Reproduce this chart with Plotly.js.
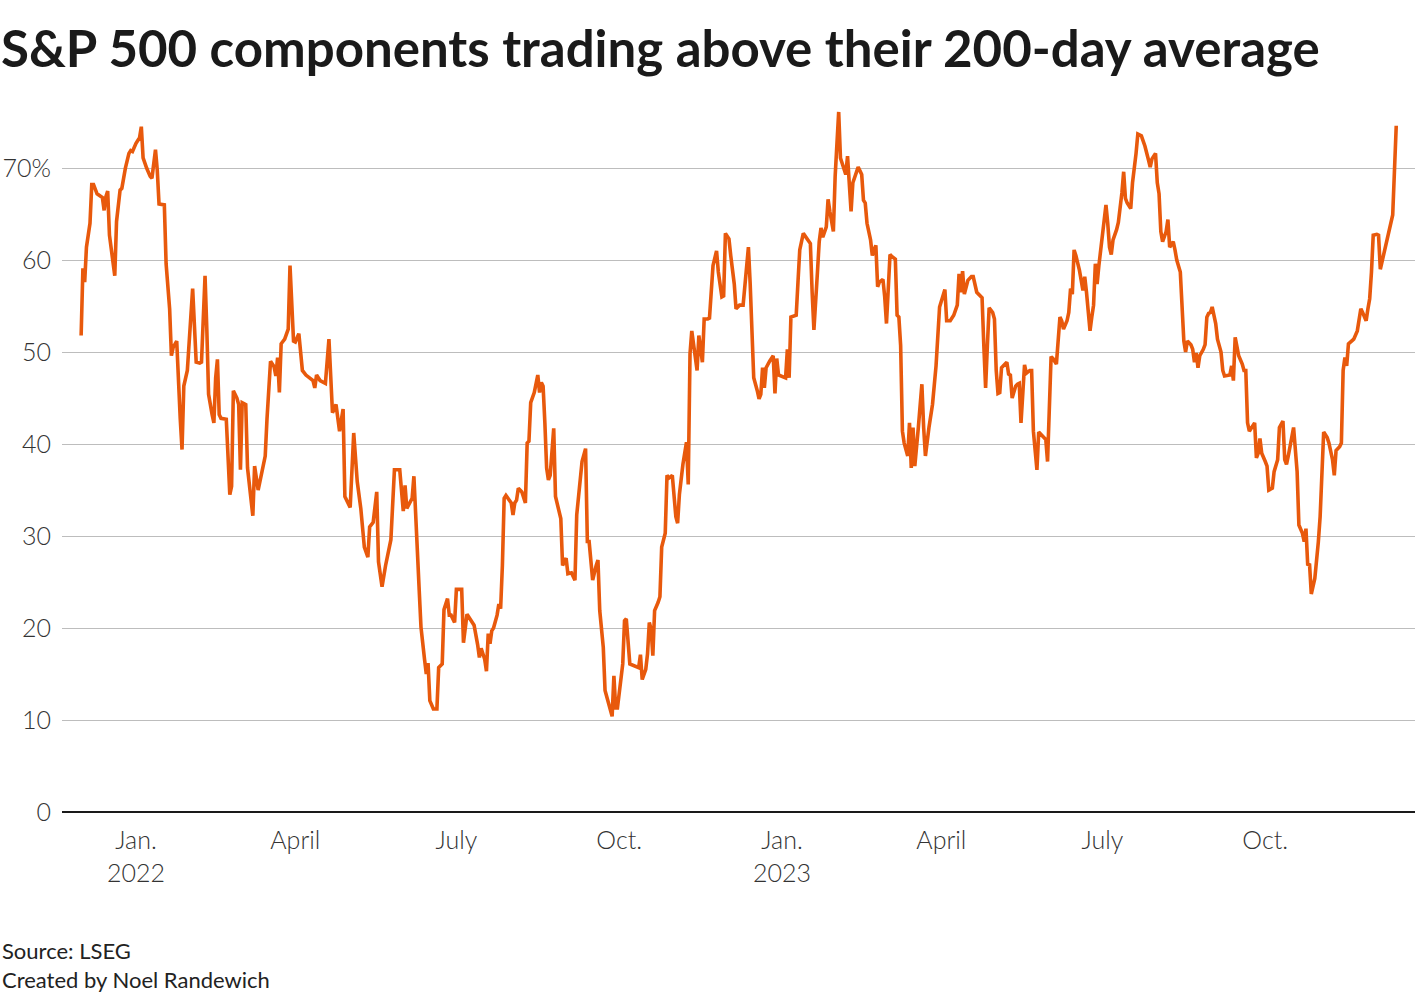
<!DOCTYPE html>
<html>
<head>
<meta charset="utf-8">
<script src="https://cdn.plot.ly/plotly-3.0.1.min.js"></script>
<style>
  html, body { margin: 0; padding: 0; background: #ffffff; }
  #chart { width: 1420px; height: 1000px; }
</style>
</head>
<body>
<div id="chart"></div>
<script>
// Share of S&P 500 components trading above their 200-day moving average (%)
const dates = [
"2021-12-01","2021-12-02","2021-12-03","2021-12-04","2021-12-06","2021-12-07","2021-12-08","2021-12-10","2021-12-13","2021-12-14",
"2021-12-15","2021-12-16","2021-12-17","2021-12-19","2021-12-20","2021-12-21","2021-12-23","2021-12-24","2021-12-26","2021-12-28",
"2021-12-29","2021-12-30","2022-01-01","2022-01-03","2022-01-04","2022-01-05","2022-01-06","2022-01-07","2022-01-09","2022-01-10",
"2022-01-12","2022-01-13","2022-01-14","2022-01-17","2022-01-18","2022-01-20","2022-01-21","2022-01-22","2022-01-24","2022-01-25",
"2022-01-26","2022-01-27","2022-01-28","2022-01-30","2022-01-31","2022-02-02","2022-02-04","2022-02-06","2022-02-07","2022-02-09",
"2022-02-10","2022-02-11","2022-02-13","2022-02-14","2022-02-15","2022-02-16","2022-02-17","2022-02-18","2022-02-21","2022-02-23",
"2022-02-24","2022-02-25","2022-02-27","2022-02-28","2022-03-01","2022-03-02","2022-03-04","2022-03-05","2022-03-08","2022-03-09",
"2022-03-11","2022-03-13","2022-03-15","2022-03-16","2022-03-18","2022-03-20","2022-03-21","2022-03-22","2022-03-23","2022-03-24",
"2022-03-26","2022-03-28","2022-03-29","2022-03-31","2022-04-01","2022-04-03","2022-04-05","2022-04-07","2022-04-11","2022-04-12",
"2022-04-13","2022-04-15","2022-04-18","2022-04-20","2022-04-22","2022-04-24","2022-04-26","2022-04-28","2022-04-29","2022-05-02",
"2022-05-04","2022-05-06","2022-05-08","2022-05-10","2022-05-12","2022-05-13","2022-05-15","2022-05-17","2022-05-18","2022-05-20",
"2022-05-22","2022-05-25","2022-05-27","2022-05-30","2022-06-01","2022-06-02","2022-06-03","2022-06-06","2022-06-07","2022-06-10",
"2022-06-11","2022-06-13","2022-06-14","2022-06-15","2022-06-16","2022-06-18","2022-06-20","2022-06-21","2022-06-23","2022-06-24",
"2022-06-26","2022-06-27","2022-06-28","2022-06-30","2022-07-01","2022-07-04","2022-07-05","2022-07-07","2022-07-09","2022-07-11",
"2022-07-13","2022-07-14","2022-07-15","2022-07-17","2022-07-18","2022-07-19","2022-07-20","2022-07-21","2022-07-22","2022-07-24",
"2022-07-25","2022-07-26","2022-07-27","2022-07-28","2022-07-29","2022-08-01","2022-08-02","2022-08-03","2022-08-04","2022-08-05",
"2022-08-07","2022-08-09","2022-08-10","2022-08-11","2022-08-12","2022-08-14","2022-08-16","2022-08-17","2022-08-18","2022-08-19",
"2022-08-20","2022-08-21","2022-08-22","2022-08-23","2022-08-25","2022-08-26","2022-08-29","2022-08-30","2022-09-01","2022-09-02",
"2022-09-04","2022-09-06","2022-09-07","2022-09-09","2022-09-10","2022-09-12","2022-09-13","2022-09-14","2022-09-16","2022-09-18",
"2022-09-19","2022-09-20","2022-09-22","2022-09-23","2022-09-24","2022-09-27","2022-09-28","2022-09-29","2022-09-30","2022-10-02",
"2022-10-03","2022-10-04","2022-10-05","2022-10-07","2022-10-09","2022-10-12","2022-10-13","2022-10-14","2022-10-16","2022-10-17",
"2022-10-18","2022-10-19","2022-10-20","2022-10-21","2022-10-23","2022-10-24","2022-10-25","2022-10-27","2022-10-28","2022-10-29",
"2022-10-31","2022-11-02","2022-11-03","2022-11-04","2022-11-06","2022-11-08","2022-11-09","2022-11-10","2022-11-11","2022-11-12",
"2022-11-14","2022-11-15","2022-11-17","2022-11-18","2022-11-20","2022-11-21","2022-11-23","2022-11-25","2022-11-26","2022-11-28",
"2022-11-29","2022-11-30","2022-12-02","2022-12-03","2022-12-05","2022-12-06","2022-12-08","2022-12-10","2022-12-11","2022-12-13",
"2022-12-14","2022-12-15","2022-12-16","2022-12-18","2022-12-19","2022-12-20","2022-12-21","2022-12-22","2022-12-23","2022-12-25",
"2022-12-27","2022-12-28","2022-12-29","2022-12-30","2023-01-03","2023-01-04","2023-01-05","2023-01-06","2023-01-09","2023-01-10",
"2023-01-11","2023-01-13","2023-01-15","2023-01-17","2023-01-18","2023-01-19","2023-01-21","2023-01-22","2023-01-23","2023-01-24",
"2023-01-26","2023-01-27","2023-01-28","2023-01-30","2023-01-31","2023-02-02","2023-02-03","2023-02-06","2023-02-07","2023-02-08",
"2023-02-09","2023-02-10","2023-02-13","2023-02-15","2023-02-16","2023-02-17","2023-02-18","2023-02-20","2023-02-21","2023-02-22",
"2023-02-23","2023-02-24","2023-02-25","2023-02-27","2023-02-28","2023-03-01","2023-03-03","2023-03-04","2023-03-06","2023-03-07",
"2023-03-08","2023-03-09","2023-03-10","2023-03-11","2023-03-13","2023-03-14","2023-03-15","2023-03-16","2023-03-17","2023-03-19",
"2023-03-21","2023-03-22","2023-03-23","2023-03-25","2023-03-27","2023-03-29","2023-03-31","2023-04-03","2023-04-04","2023-04-06",
"2023-04-08","2023-04-10","2023-04-11","2023-04-12","2023-04-13","2023-04-14","2023-04-16","2023-04-18","2023-04-19","2023-04-21",
"2023-04-24","2023-04-25","2023-04-26","2023-04-27","2023-04-28","2023-04-30","2023-05-01","2023-05-02","2023-05-03","2023-05-04",
"2023-05-05","2023-05-07","2023-05-08","2023-05-09","2023-05-10","2023-05-11","2023-05-13","2023-05-14","2023-05-15","2023-05-16",
"2023-05-18","2023-05-19","2023-05-21","2023-05-22","2023-05-23","2023-05-25","2023-05-26","2023-05-28","2023-05-30","2023-05-31",
"2023-06-01","2023-06-02","2023-06-03","2023-06-05","2023-06-07","2023-06-08","2023-06-09","2023-06-11","2023-06-12","2023-06-13",
"2023-06-14","2023-06-15","2023-06-16","2023-06-18","2023-06-20","2023-06-21","2023-06-22","2023-06-24","2023-06-25","2023-06-26",
"2023-06-27","2023-06-28","2023-06-29","2023-07-01","2023-07-02","2023-07-03","2023-07-04","2023-07-05","2023-07-06","2023-07-07",
"2023-07-09","2023-07-10","2023-07-12","2023-07-13","2023-07-14","2023-07-15","2023-07-17","2023-07-18","2023-07-20","2023-07-21",
"2023-07-23","2023-07-25","2023-07-27","2023-07-28","2023-07-29","2023-07-31","2023-08-01","2023-08-02","2023-08-03","2023-08-04",
"2023-08-06","2023-08-07","2023-08-08","2023-08-10","2023-08-11","2023-08-12","2023-08-14","2023-08-15","2023-08-16","2023-08-17",
"2023-08-18","2023-08-20","2023-08-21","2023-08-22","2023-08-23","2023-08-24","2023-08-25","2023-08-27","2023-08-28","2023-08-29",
"2023-08-30","2023-08-31","2023-09-01","2023-09-03","2023-09-04","2023-09-06","2023-09-07","2023-09-08","2023-09-11","2023-09-12",
"2023-09-13","2023-09-14","2023-09-16","2023-09-18","2023-09-19","2023-09-20","2023-09-21","2023-09-22","2023-09-24","2023-09-25",
"2023-09-26","2023-09-27","2023-09-28","2023-09-29","2023-10-01","2023-10-02","2023-10-03","2023-10-05","2023-10-06","2023-10-08",
"2023-10-09","2023-10-11","2023-10-12","2023-10-13","2023-10-14","2023-10-16","2023-10-17","2023-10-19","2023-10-20","2023-10-22",
"2023-10-23","2023-10-24","2023-10-25","2023-10-26","2023-10-27","2023-10-29","2023-10-30","2023-10-31","2023-11-01","2023-11-02",
"2023-11-03","2023-11-05","2023-11-06","2023-11-08","2023-11-09","2023-11-10","2023-11-12","2023-11-13","2023-11-14","2023-11-15",
"2023-11-16","2023-11-17","2023-11-19","2023-11-20","2023-11-22","2023-11-23","2023-11-24","2023-11-25","2023-11-27","2023-11-28",
"2023-11-29","2023-11-30","2023-12-01","2023-12-03","2023-12-04","2023-12-05","2023-12-07","2023-12-08","2023-12-10","2023-12-11",
"2023-12-12","2023-12-14"
];

const pctAbove = [
51.8,59.1,57.6,61.4,64.0,68.2,68.2,67.2,66.8,65.4,
66.9,67.5,62.7,60.0,58.3,64.2,67.6,67.8,70.0,71.6,
71.9,71.8,72.7,73.3,74.5,71.1,70.4,70.0,69.1,68.9,
72.0,69.8,66.1,66.0,59.6,54.7,49.6,50.5,51.2,46.3,
42.7,39.4,46.3,48.0,50.7,56.9,48.9,48.8,48.9,58.3,
52.5,45.4,43.2,42.3,47.2,49.2,43.2,42.8,42.7,34.5,
35.4,45.8,45.0,44.3,37.2,44.5,44.3,37.4,32.2,37.6,
35.0,37.0,38.7,42.7,49.0,48.4,47.4,49.4,45.6,50.9,
51.4,52.5,59.4,51.2,51.1,52.0,48.0,47.5,46.9,46.1,
47.5,46.9,46.6,51.4,43.4,44.3,41.4,43.8,34.3,33.1,
41.2,35.9,33.0,28.8,27.7,31.0,31.5,34.8,27.2,24.5,
26.8,29.6,37.2,37.2,32.7,35.5,33.0,34.1,36.5,24.1,
20.1,16.6,15.0,16.2,12.1,11.2,11.2,15.7,16.1,22.0,
23.2,21.4,21.4,20.6,24.2,24.2,18.4,21.5,20.8,20.3,
18.2,16.8,17.8,16.6,15.3,19.4,18.3,19.7,20.0,21.4,
22.6,22.1,26.8,34.1,34.4,33.6,32.3,33.6,33.9,35.2,
34.8,33.6,40.1,40.3,44.5,45.6,47.5,45.6,46.7,46.3,
42.3,37.4,36.1,36.6,41.7,34.3,31.9,26.8,27.6,25.9,
26.0,25.2,32.3,36.7,38.1,39.5,29.4,29.4,25.2,26.8,
27.4,21.9,17.9,13.2,12.4,10.4,14.8,11.3,11.3,14.3,
16.1,20.8,21.0,16.1,15.9,15.7,17.1,14.4,15.5,17.2,
20.6,19.9,17.0,21.9,22.8,23.4,28.8,30.3,36.6,36.3,
36.6,32.1,31.4,34.5,37.8,40.2,35.6,49.8,52.3,50.7,
48.0,51.8,48.9,53.6,53.6,53.7,59.4,61.0,58.7,56.0,
56.1,62.9,62.3,60.5,57.4,54.7,55.1,55.1,57.1,61.4,
57.4,50.7,47.2,45.8,44.9,45.4,48.3,46.1,48.3,49.0,
49.6,45.5,49.3,47.5,47.2,50.3,47.2,53.8,54.0,57.6,
61.1,62.9,62.4,61.8,56.5,52.4,58.7,62.0,63.5,62.5,
63.6,66.6,65.3,63.1,69.1,76.1,71.1,69.3,71.3,67.8,
65.3,68.4,70.1,69.3,66.5,66.2,64.0,62.2,60.5,61.1,
61.6,57.1,57.6,57.9,56.0,53.1,60.6,60.4,60.1,54.0,
53.8,50.7,41.4,40.1,38.7,42.3,37.4,41.8,37.6,41.8,
46.5,41.8,38.7,41.8,44.3,48.5,54.9,56.8,53.4,53.4,
54.0,55.1,58.5,56.5,58.8,56.3,57.8,58.2,58.2,56.5,
55.9,50.7,46.1,50.7,54.8,54.3,53.6,48.0,45.5,45.6,
48.3,48.7,48.9,47.6,47.5,45.0,46.3,46.5,46.6,42.3,
48.6,47.7,48.0,48.0,41.4,37.2,41.3,40.9,40.5,38.1,
43.6,49.5,49.3,48.7,53.8,53.4,52.5,53.4,54.3,56.9,
56.3,61.1,60.5,58.9,56.7,58.2,56.5,52.3,53.8,55.1,
59.6,57.4,59.4,62.9,64.5,66.0,64.0,61.4,60.6,62.2,
63.3,64.1,67.3,69.6,66.7,66.2,65.6,68.4,71.6,73.7,
73.5,72.4,70.9,70.1,71.0,71.6,68.4,67.2,63.1,62.0,
63.1,64.4,61.4,62.0,61.1,60.0,58.7,55.1,51.2,50.0,
51.2,50.8,50.3,48.9,49.9,48.3,49.6,50.3,50.8,53.8,
54.2,54.3,54.9,53.1,51.4,50.0,48.0,47.4,47.5,48.5,
46.9,51.6,49.6,48.7,48.0,48.0,42.3,41.4,42.1,42.3,
38.5,39.0,40.6,39.0,38.1,37.6,35.0,35.2,37.0,38.3,
41.8,42.5,38.3,37.8,38.7,41.0,41.8,37.0,31.2,30.3,
29.4,30.8,26.8,27.0,23.7,25.4,27.2,29.4,32.1,36.5,
41.3,40.7,40.1,38.3,36.6,39.3,39.7,40.1,48.0,49.4,
48.5,50.9,51.2,51.4,52.3,53.6,54.7,54.3,53.4,54.7,
55.8,58.7,62.7,62.8,62.7,59.0,60.7,61.6,62.9,64.1,
64.9,74.6
];

const xTickDates  = ["2022-01-01","2022-04-01","2022-07-01","2022-10-01","2023-01-01","2023-04-01","2023-07-01","2023-10-01"];
const xTickLabels = ["Jan.<br>2022","April","July","Oct.","Jan.<br>2023","April","July","Oct."];
const yTickValues = [0,10,20,30,40,50,60,70];
const yTickLabels = ["0","10","20","30","40","50","60","70%"];

const titleText  = "S&P 500 components trading above their 200-day average";
const sourceText = "Source: LSEG";
const creditText = "Created by Noel Randewich";

const FONT = "Lato, 'Source Sans Pro', 'Noto Sans', sans-serif";

const trace = {
  type: "scatter",
  mode: "lines",
  x: dates,
  y: pctAbove,
  line: { color: "#e8590c", width: 3.6, shape: "linear" },
  hoverinfo: "x+y",
  showlegend: false
};

const layout = {
  width: 1420,
  height: 1000,
  margin: { l: 62, r: 5, t: 100, b: 188, pad: 0 },
  paper_bgcolor: "#ffffff",
  plot_bgcolor: "#ffffff",
  title: {
    text: "<b>" + titleText + "</b>",
    font: { family: FONT, size: 51, color: "#1a1a1a" },
    x: 0, xref: "container", xanchor: "left",
    y: 0.951, yref: "container", yanchor: "middle",
    pad: { l: 1 }
  },
  xaxis: {
    type: "date",
    range: ["2021-11-20 04:30", "2023-12-24 14:24"],
    tickmode: "array",
    tickvals: xTickDates,
    ticktext: xTickLabels,
    ticks: "",
    showgrid: false,
    zeroline: false,
    showline: false,
    tickfont: { family: FONT, size: 25, color: "#333333", weight: 300 },
    ticklabelstandoff: 11,
    fixedrange: true
  },
  yaxis: {
    range: [0, 77.4],
    tickmode: "array",
    tickvals: yTickValues,
    ticktext: yTickLabels,
    ticks: "",
    showgrid: true,
    gridcolor: "#bdbdbd",
    gridwidth: 1,
    zeroline: true,
    zerolinecolor: "#1a1a1a",
    zerolinewidth: 2,
    showline: false,
    tickfont: { family: FONT, size: 25, color: "#333333", weight: 300 },
    ticklabelstandoff: 10,
    fixedrange: true
  },
  annotations: [
    {
      text: sourceText, xref: "paper", yref: "paper",
      x: -62 / 1353, y: (812 - 950) / 712, xanchor: "left", yanchor: "middle",
      showarrow: false, font: { family: FONT, size: 22, color: "#222222" }
    },
    {
      text: creditText, xref: "paper", yref: "paper",
      x: -62 / 1353, y: (812 - 980) / 712, xanchor: "left", yanchor: "middle",
      showarrow: false, font: { family: FONT, size: 22, color: "#222222" }
    }
  ]
};

Plotly.newPlot("chart", [trace], layout, { displayModeBar: false, staticPlot: true });
</script>
</body>
</html>
